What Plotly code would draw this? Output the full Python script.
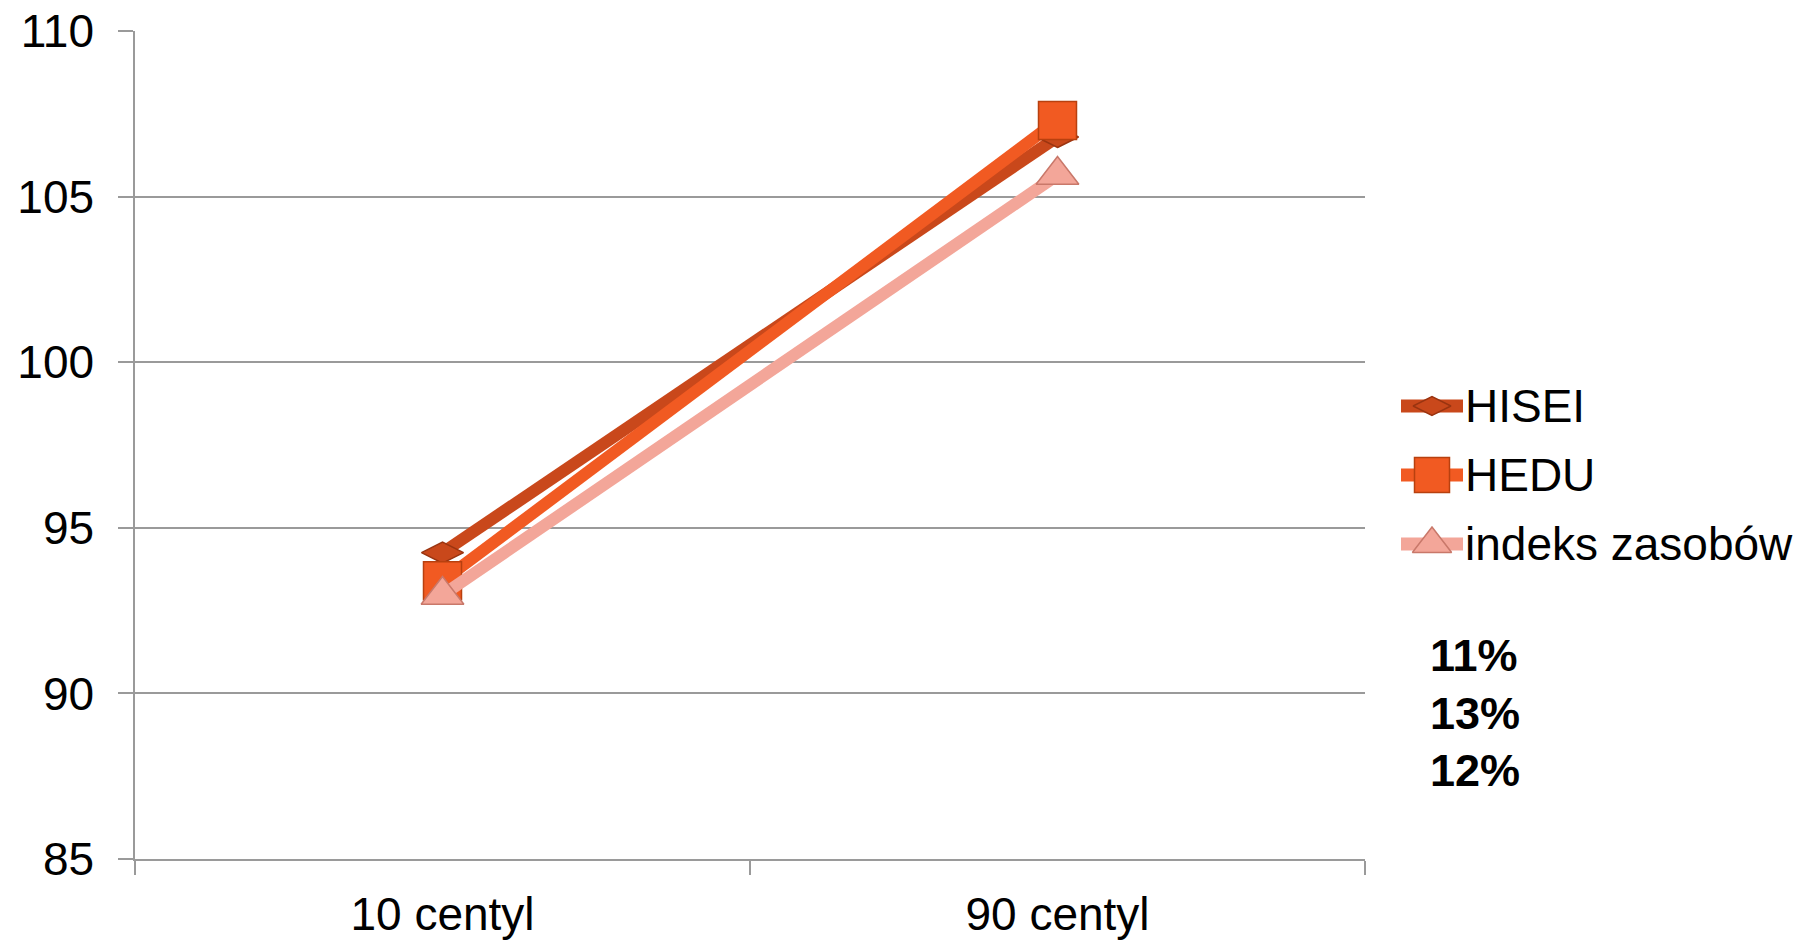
import plotly.graph_objects as go

categories = ["10 centyl", "90 centyl"]
hisei = [94.25, 106.8]
hedu = [93.4, 107.3]
indeks = [92.97, 105.65]
series_names = ["HISEI", "HEDU", "indeks zasobów"]
percent_labels = ["11%", "13%", "12%"]
y_ticks = [85, 90, 95, 100, 105, 110]

FONT = "Liberation Sans, Arial, sans-serif"
W, H = 1808, 942
ML, MR, MT, MB = 135, 0, 31, 83
PLOT_RIGHT = 1365           # right edge of the main plot area (px)
KEY_LEFT = 1380             # left edge of the key area (px)
paper_w = W - ML - MR

fig = go.Figure()
styles = [
    dict(color="#C9481B", outline="#9A3410", symbol="diamond-wide", size=30),
    dict(color="#F15A22", outline="#B8400F", symbol="square", size=38),
    dict(color="#F3A699", outline="#C9786A", symbol="triangle-up", size=37),
]
for name, vals, st in zip(series_names, [hisei, hedu, indeks], styles):
    fig.add_trace(go.Scatter(
        x=categories, y=vals, name=name, mode="lines+markers", showlegend=False,
        line=dict(color=st["color"], width=12),
        marker=dict(symbol=st["symbol"], size=st["size"], color=st["color"],
                    line=dict(color=st["outline"], width=1.5)),
    ))

# custom key drawn on a pixel-unit helper axis pair (x2/y2)
key_rows = [406, 475, 544]
key_line_x = [1401, 1432, 1463]
for name, st, ry in zip(series_names, styles, key_rows):
    fig.add_trace(go.Scatter(
        x=key_line_x, y=[ry] * 3, xaxis="x2", yaxis="y2", mode="lines", showlegend=False,
        line=dict(color=st["color"], width=13), hoverinfo="skip",
    ))
    fig.add_trace(go.Scatter(
        x=[key_line_x[1]], y=[ry], xaxis="x2", yaxis="y2", mode="markers", showlegend=False,
        marker=dict(symbol=st["symbol"], size=st["size"] - 3, color=st["color"],
                    line=dict(color=st["outline"], width=1.5)), hoverinfo="skip",
    ))
    fig.add_annotation(
        xref="x2", yref="y2", x=1463, y=ry, text=name, showarrow=False,
        xanchor="left", yanchor="middle", font=dict(family=FONT, size=46, color="black"),
    )

pct_rows = [655, 713, 770]
for txt, ry in zip(percent_labels, pct_rows):
    fig.add_annotation(
        xref="x2", yref="y2", x=1428, y=ry, text="<b>" + txt + "</b>", showarrow=False,
        xanchor="left", yanchor="middle", font=dict(family=FONT, size=45, color="black"),
    )

fig.update_layout(
    width=W, height=H,
    margin=dict(l=ML, r=MR, t=MT, b=MB),
    paper_bgcolor="white", plot_bgcolor="white",
    font=dict(family=FONT, size=46, color="black"),
    showlegend=False,
    xaxis=dict(
        domain=[0, (PLOT_RIGHT - ML) / paper_w],
        type="category", range=[-0.5, 1.5], tickson="boundaries",
        ticks="outside", ticklen=14, tickcolor="#9A9A9A", tickwidth=1.5,
        showline=True, linecolor="#9A9A9A", linewidth=1.5,
        showgrid=False, tickfont=dict(family=FONT, size=46), ticklabelstandoff=14,
        automargin=False,
    ),
    yaxis=dict(
        range=[85, 110], tickvals=y_ticks, ticks="outside", ticklen=15,
        tickcolor="#9A9A9A", tickwidth=1.5,
        showline=True, linecolor="#9A9A9A", linewidth=1.5,
        showgrid=True, gridcolor="#9A9A9A", gridwidth=1.5, zeroline=False,
        tickfont=dict(family=FONT, size=46), ticklabelstandoff=15,
        automargin=False,
    ),
    xaxis2=dict(
        domain=[(KEY_LEFT - ML) / paper_w, 1.0], range=[KEY_LEFT, W],
        visible=False, fixedrange=True, anchor="y2",
    ),
    yaxis2=dict(
        domain=[0, 1], range=[H - MB, MT], visible=False, fixedrange=True, anchor="x2",
    ),
)

fig.write_html(
    "out.html",
    config={"displayModeBar": False},
    post_script="document.body.style.margin='0';document.body.style.overflow='hidden';",
)
